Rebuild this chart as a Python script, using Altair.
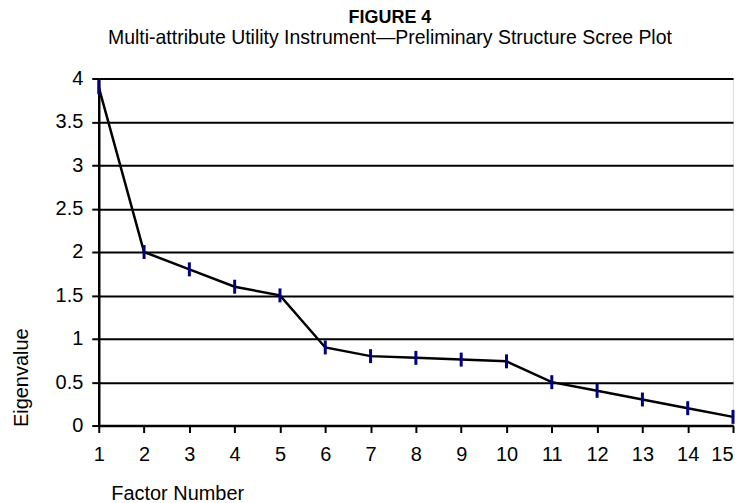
import altair as alt
import pandas as pd

factors = list(range(1, 16))
eigenvalues = [3.9, 2.0, 1.8, 1.6, 1.5, 0.9, 0.8, 0.78, 0.76, 0.74, 0.5, 0.4, 0.3, 0.2, 0.1]
y_ticks = [0, 0.5, 1, 1.5, 2, 2.5, 3, 3.5, 4]

df = pd.DataFrame({"factor": factors, "eigen": eigenvalues})

FONT = "Liberation Sans"

x_enc = alt.X(
    "factor:Q",
    scale=alt.Scale(domain=[1, 15], nice=False, zero=False),
    axis=alt.Axis(
        values=factors,
        format="d",
        title="Factor Number",
        titleAnchor="start",
        titleAlign="left",
        titleX=12,
        titleY=74,
        titleBaseline="alphabetic",
        titleFont=FONT,
        titleFontSize=20,
        titleFontWeight="normal",
        titleColor="black",
        labelFont=FONT,
        labelFontSize=20,
        labelColor="black",
        labelPadding=12,
        labelFlush=False,
        labelAlign=alt.expr("datum.value == 15 ? 'right' : 'center'"),
        tickSize=7,
        tickWidth=2,
        tickColor="black",
        domainColor="black",
        domainWidth=2.5,
        grid=False,
    ),
)

y_enc = alt.Y(
    "eigen:Q",
    scale=alt.Scale(domain=[0, 4], nice=False),
    axis=alt.Axis(
        values=y_ticks,
        format="~g",
        title="Eigenvalue",
        titleAngle=270,
        titleAlign="left",
        titleBaseline="alphabetic",
        titleX=-71,
        titleY=349,
        titleFont=FONT,
        titleFontSize=20,
        titleFontWeight="normal",
        titleColor="black",
        labelFont=FONT,
        labelFontSize=20,
        labelColor="black",
        labelPadding=9,
        labelFlush=False,
        tickSize=7,
        tickWidth=2,
        tickColor="black",
        domainColor="black",
        domainWidth=2.5,
        grid=True,
        gridColor="black",
        gridWidth=2,
        gridOpacity=1,
    ),
)

line = alt.Chart(df).mark_line(color="black", strokeWidth=2.5).encode(x=x_enc, y=y_enc)
ticks = alt.Chart(df).mark_tick(
    color="#000080", orient="vertical", size=14, thickness=3, opacity=1
).encode(x="factor:Q", y="eigen:Q")

chart = (
    alt.layer(line, ticks)
    .properties(
        width=636,
        height=348,
        autosize=alt.AutoSizeParams(type="none"),
        padding={"left": 91, "top": 70, "right": 6, "bottom": 80},
        title=alt.TitleParams(
            text="FIGURE 4",
            subtitle="Multi-attribute Utility Instrument\u2014Preliminary Structure Scree Plot",
            font=FONT,
            fontSize=18,
            fontWeight="bold",
            color="black",
            subtitleFont=FONT,
            subtitleFontSize=19.5,
            subtitleColor="black",
            subtitlePadding=2,
            anchor="middle",
            dx=-26,
            offset=21,
        ),
    )
    .configure_view(stroke=None)
    .configure(background="white")
)

chart.save("out.html", embed_options={"renderer": "svg", "actions": False})
